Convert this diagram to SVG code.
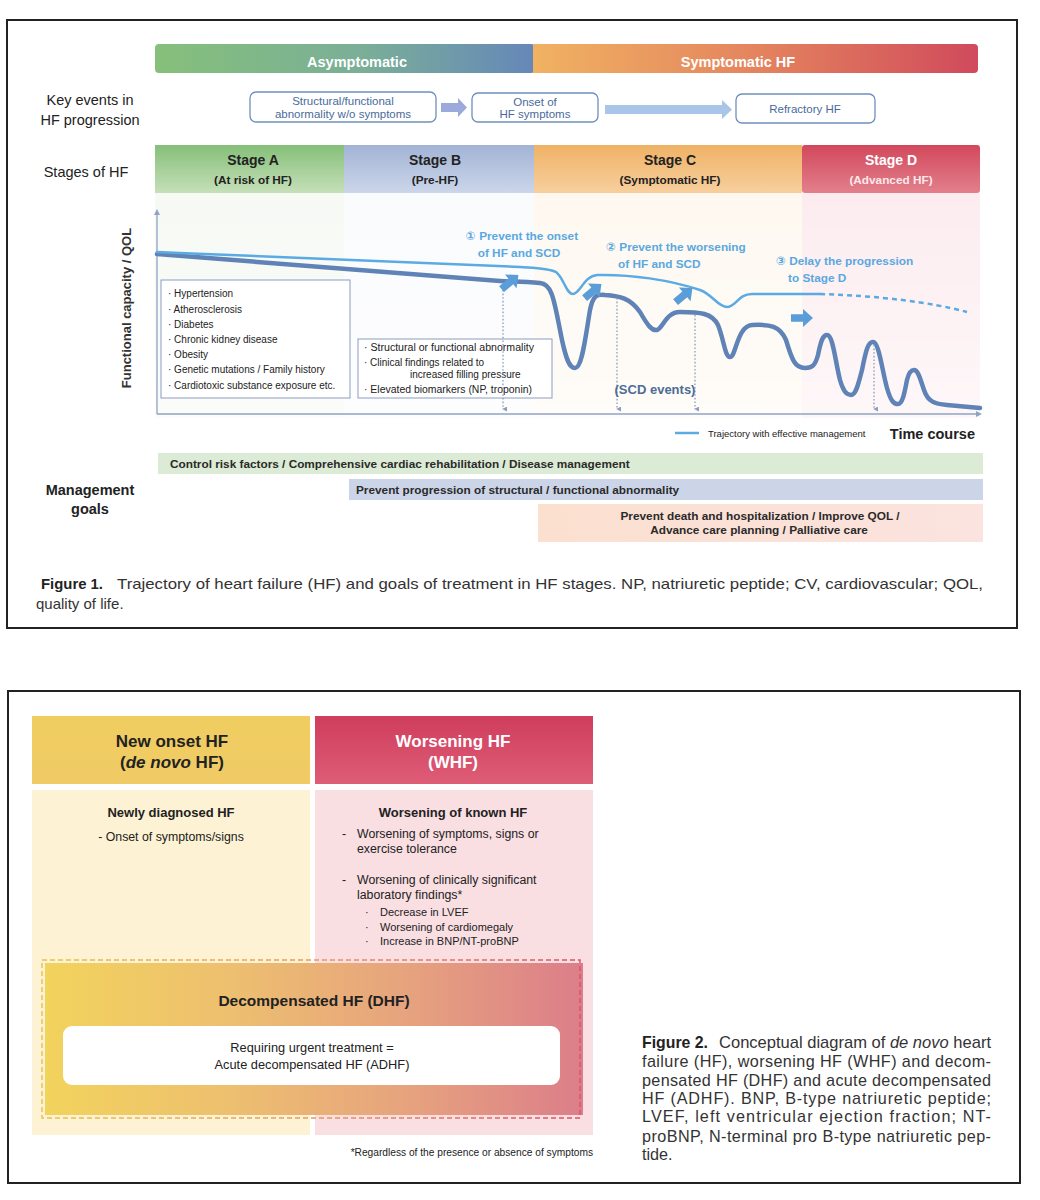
<svg xmlns="http://www.w3.org/2000/svg" xmlns:xlink="http://www.w3.org/1999/xlink" width="1040" height="1200" viewBox="0 0 1040 1200">
<defs>
<style>
text{font-family:"Liberation Sans","DejaVu Sans",Arial,sans-serif;fill:#222}
.b{font-weight:bold}
.lbl{font-size:14.5px}
.ev{font-size:11.5px;fill:#4a6a9c;text-anchor:middle}
.evbox{fill:#fff;stroke:#6f8fbc;stroke-width:1.3}
.st{font-size:14px;font-weight:bold;text-anchor:middle}
.sts{font-size:11.8px;font-weight:bold;text-anchor:middle}
.sm{font-size:10px;fill:#222}
.goal{font-size:11.8px;font-weight:bold;fill:#2a2a2a}
.aim{font-size:11.8px;font-weight:bold;fill:#5aa8e0}
.dot{stroke:#8c9dbf;stroke-width:1.3;stroke-dasharray:1.6 2;fill:none}
.cap{font-size:15px;fill:#333}
.cap2{font-size:16.2px;fill:#333}
.f2{font-size:12.3px}
.f2s{font-size:11px}
</style>
<linearGradient id="gAsym" x1="0" x2="1" y1="0" y2="0"><stop offset="0" stop-color="#86c07a"/><stop offset="0.55" stop-color="#7aae98"/><stop offset="1" stop-color="#6587b9"/></linearGradient>
<linearGradient id="gSym" x1="0" x2="1" y1="0" y2="0"><stop offset="0" stop-color="#f0b262"/><stop offset="0.5" stop-color="#e4845e"/><stop offset="1" stop-color="#d04a5c"/></linearGradient>
<linearGradient id="gA" x1="0" x2="0" y1="0" y2="1"><stop offset="0" stop-color="#85bf78"/><stop offset="1" stop-color="#c6e0b9"/></linearGradient>
<linearGradient id="gB" x1="0" x2="0" y1="0" y2="1"><stop offset="0" stop-color="#a2b3d5"/><stop offset="1" stop-color="#ccd6ea"/></linearGradient>
<linearGradient id="gC" x1="0" x2="0" y1="0" y2="1"><stop offset="0" stop-color="#efb266"/><stop offset="1" stop-color="#f7cf9e"/></linearGradient>
<linearGradient id="gD" x1="0" x2="0" y1="0" y2="1"><stop offset="0" stop-color="#d2485c"/><stop offset="1" stop-color="#e2808c"/></linearGradient>
<linearGradient id="gFade" x1="0" x2="0" y1="0" y2="1"><stop offset="0" stop-color="#fff" stop-opacity="0"/><stop offset="1" stop-color="#fff" stop-opacity="0.6"/></linearGradient>
<linearGradient id="gPeach" x1="0" x2="1" y1="0" y2="0"><stop offset="0" stop-color="#fbe0cf"/><stop offset="1" stop-color="#fbe3df"/></linearGradient>
<linearGradient id="gNewH" x1="0" x2="0" y1="0" y2="1"><stop offset="0" stop-color="#f0cd60"/><stop offset="1" stop-color="#f0cb66"/></linearGradient>
<linearGradient id="gWorH" x1="0" x2="0" y1="0" y2="1"><stop offset="0" stop-color="#cf3d5d"/><stop offset="1" stop-color="#de5d76"/></linearGradient>
<linearGradient id="gDHF" x1="0" x2="1" y1="0" y2="0"><stop offset="0" stop-color="#f2d35c"/><stop offset="0.35" stop-color="#edbf70"/><stop offset="0.68" stop-color="#e6a27e"/><stop offset="1" stop-color="#dc7e8a"/></linearGradient>
<linearGradient id="gDash" x1="0" x2="1" y1="0" y2="0"><stop offset="0" stop-color="#e8c24a"/><stop offset="0.5" stop-color="#e89a60"/><stop offset="1" stop-color="#df4f66"/></linearGradient>
<path id="barr" d="M-11,-3.8 L1,-3.8 L1,-9 L11,0 L1,9 L1,3.8 L-11,3.8 Z" fill="#5b9dd9"/>
<marker id="tip" viewBox="0 0 6 6" refX="3" refY="5" markerWidth="5" markerHeight="5" orient="auto-start-reverse" markerUnits="userSpaceOnUse"><path d="M0,0 L6,0 L3,6 Z" fill="#8c9dbf"/></marker>
<marker id="axtip" viewBox="0 0 6 6" refX="3" refY="3" markerWidth="6" markerHeight="6" orient="auto" markerUnits="userSpaceOnUse"><path d="M0,0 L6,3 L0,6 Z" fill="#8fa3c4"/></marker>
</defs>

<rect width="1040" height="1200" fill="#fff"/>

<!-- ===== Figure 1 ===== -->
<g id="figure1">
<rect x="7" y="20" width="1010" height="608" fill="#fff" stroke="#222" stroke-width="2"/>

<g id="phase-bars">
<rect x="155" y="44" width="380" height="29" rx="4" fill="url(#gAsym)"/>
<rect x="533" y="44" width="445" height="29" rx="4" fill="url(#gSym)"/>
<rect x="533" y="44" width="6" height="29" fill="#f0b262"/>
<text x="357" y="66.5" class="b" font-size="14.5" text-anchor="middle" style="fill:#fff">Asymptomatic</text>
<text x="738" y="66.5" class="b" font-size="14.5" text-anchor="middle" style="fill:#fff">Symptomatic HF</text>
</g>

<g id="row-labels">
<text x="90" y="105" class="lbl" text-anchor="middle">Key events in</text>
<text x="90" y="125" class="lbl" text-anchor="middle">HF progression</text>
<text x="86" y="177" class="lbl" text-anchor="middle">Stages of HF</text>
<text x="90" y="495" class="lbl b" text-anchor="middle">Management</text>
<text x="90" y="514" class="lbl b" text-anchor="middle">goals</text>
</g>

<g id="event-structural">
<rect class="evbox" x="250" y="92" width="186" height="30" rx="6"/>
<text x="343" y="105" class="ev">Structural/functional</text>
<text x="343" y="117.5" class="ev">abnormality w/o symptoms</text>
</g>
<g id="event-onset">
<rect class="evbox" x="472" y="93" width="126" height="29" rx="6"/>
<text x="535" y="105.5" class="ev">Onset of</text>
<text x="535" y="117.5" class="ev">HF symptoms</text>
</g>
<g id="event-refractory">
<rect class="evbox" x="736" y="94" width="139" height="29" rx="6"/>
<text x="805" y="113" class="ev">Refractory HF</text>
</g>

<g id="stages">
<rect x="155" y="145" width="190" height="48" fill="url(#gA)"/>
<rect x="344" y="145" width="190" height="48" fill="url(#gB)"/>
<rect x="534" y="145" width="268" height="48" fill="url(#gC)"/>
<rect x="802" y="145" width="178" height="48" rx="3" fill="url(#gD)"/>
<text x="253" y="165" class="st">Stage A</text>
<text x="253" y="184" class="sts">(At risk of HF)</text>
<text x="435" y="165" class="st">Stage B</text>
<text x="435" y="184" class="sts">(Pre-HF)</text>
<text x="670" y="165" class="st">Stage C</text>
<text x="670" y="184" class="sts">(Symptomatic HF)</text>
<text x="891" y="165" class="st" style="fill:#fff">Stage D</text>
<text x="891" y="184" class="sts" style="fill:#fbe8ea">(Advanced HF)</text>
</g>

<g id="graph-background">
<rect x="155" y="193" width="190" height="225" fill="#f6f9f4"/>
<rect x="344" y="193" width="190" height="225" fill="#fafbfd"/>
<rect x="534" y="193" width="268" height="225" fill="#fef8f0"/>
<rect x="802" y="193" width="178" height="225" fill="#fcecef"/>
<rect x="155" y="193" width="825" height="225" fill="url(#gFade)"/>
</g>

<g id="axes">
<line x1="157" y1="414" x2="157" y2="212" stroke="#8fa3c4" stroke-width="1.3" marker-end="url(#axtip)"/>
<line x1="157" y1="414" x2="979" y2="414" stroke="#8fa3c4" stroke-width="1.3" marker-end="url(#axtip)"/>
<text transform="translate(131,308) rotate(-90)" class="b" font-size="13" text-anchor="middle" style="fill:#333">Functional capacity / QOL</text>
</g>

<g id="risk-factors">
<rect x="161" y="280" width="189" height="118" fill="#fff" stroke="#8c9cc0" stroke-width="1"/>
<text x="168" y="297" class="sm">· Hypertension</text>
<text x="168" y="312.5" class="sm">· Atherosclerosis</text>
<text x="168" y="327.5" class="sm">· Diabetes</text>
<text x="168" y="342.5" class="sm">· Chronic kidney disease</text>
<text x="168" y="357.5" class="sm">· Obesity</text>
<text x="168" y="373" class="sm">· Genetic mutations / Family history</text>
<text x="168" y="389" class="sm">· Cardiotoxic substance exposure etc.</text>
</g>

<g id="stageB-findings">
<rect x="358" y="339" width="194" height="59" fill="#fff" stroke="#8c9cc0" stroke-width="1"/>
<text x="364" y="350.5" class="sm" textLength="170" lengthAdjust="spacingAndGlyphs">· Structural or functional abnormality</text>
<text x="364" y="365.5" class="sm">· Clinical findings related to</text>
<text x="410" y="378" class="sm">increased filling pressure</text>
<text x="364" y="393" class="sm" textLength="168" lengthAdjust="spacingAndGlyphs">· Elevated biomarkers (NP, troponin)</text>
</g>

<g id="trajectories">
<path d="M157,254 L500,281 C510,282 520,281 540,283 C552,284 554,300 560,330 C566,362 570,368 575,368 C582,368 585,340 590,310 C593,296 596,294 605,295 C620,296 630,298 640,312 C648,326 652,331 657,330 C663,328 666,312 680,312 C700,312 712,313 718,325 C724,340 725,357 730,357 C736,357 737,326 752,325 C770,324 780,326 786,340 C792,360 795,368 805,368 C812,368 815,366 818,355 C821,340 823,335 827,335 C833,335 835,360 840,380 C844,394 848,395 851,395 C856,395 858,385 862,370 C866,350 868,342 873,342 C879,342 882,370 887,388 C891,402 894,404 898,404 C903,404 905,390 907,380 C909,372 911,370 914,370 C918,370 920,378 924,390 C928,402 935,404 947,405 L980,408" fill="none" stroke="#5f83b6" stroke-width="4.5" stroke-linecap="round" stroke-linejoin="round"/>
<path d="M157,252 C300,258 450,264 520,267 C535,268 548,268 556,272 C564,278 566,294 573,294 C580,294 584,276 597,275 C630,274 670,280 700,290 C712,294 718,307 727,307 C736,307 738,294 752,294 L820,294" fill="none" stroke="#5aaae3" stroke-width="2.5" stroke-linecap="round"/>
<path d="M820,294 C880,296 930,302 967,312" fill="none" stroke="#5aaae3" stroke-width="2.5" stroke-dasharray="5 4"/>
</g>

<g id="connectors">
<path d="M441,103 L458,103 L458,98 L467,107.5 L458,117 L458,112 L441,112 Z" fill="#9ca9dc"/>
<path d="M605,105 L722,105 L722,100 L732,109.5 L722,119 L722,114 L605,114 Z" fill="#a9c5e7"/>
<line class="dot" x1="503" y1="290" x2="503" y2="409" marker-end="url(#tip)"/>
<line class="dot" x1="617" y1="298" x2="617" y2="409" marker-end="url(#tip)"/>
<line class="dot" x1="695" y1="315" x2="695" y2="409" marker-end="url(#tip)"/>
<line class="dot" x1="874" y1="345" x2="874" y2="409" marker-end="url(#tip)"/>
<use xlink:href="#barr" transform="translate(510,282) rotate(-40)"/>
<use xlink:href="#barr" transform="translate(593,291) rotate(-40)"/>
<use xlink:href="#barr" transform="translate(684,295) rotate(-40)"/>
<use xlink:href="#barr" transform="translate(802,318)"/>
</g>

<g id="aims">
<text x="522" y="239.5" class="aim" text-anchor="middle">① Prevent the onset</text>
<text x="519" y="256.5" class="aim" text-anchor="middle">of HF and SCD</text>
<text x="606" y="251" class="aim">② Prevent the worsening</text>
<text x="618" y="267.5" class="aim">of HF and SCD</text>
<text x="776" y="265" class="aim">③ Delay the progression</text>
<text x="788" y="282" class="aim">to Stage D</text>
<text x="655" y="394" class="b" font-size="13" text-anchor="middle" style="fill:#4d6c96">(SCD events)</text>
</g>

<g id="legend">
<line x1="675" y1="433" x2="699" y2="433" stroke="#5aaae3" stroke-width="2.5"/>
<text x="708" y="436.5" font-size="9.5">Trajectory with effective management</text>
<text x="975" y="439" class="b" font-size="14.5" text-anchor="end">Time course</text>
</g>

<g id="goal-control">
<rect x="158" y="453" width="825" height="21" fill="#dcebd5"/>
<text x="170" y="468" class="goal">Control risk factors / Comprehensive cardiac rehabilitation / Disease management</text>
</g>
<g id="goal-prevent-progression">
<rect x="349" y="479" width="634" height="21" fill="#ccd5e8"/>
<text x="356" y="494" class="goal">Prevent progression of structural / functional abnormality</text>
</g>
<g id="goal-prevent-death">
<rect x="538" y="504" width="445" height="38" fill="url(#gPeach)"/>
<text x="760" y="520" class="goal" text-anchor="middle">Prevent death and hospitalization / Improve QOL /</text>
<text x="759" y="534" class="goal" text-anchor="middle">Advance care planning / Palliative care</text>
</g>

<g id="caption1">
<text x="41" y="589" class="cap b" textLength="62" lengthAdjust="spacingAndGlyphs" style="fill:#222">Figure 1.</text>
<text x="117" y="589" class="cap" textLength="866" lengthAdjust="spacingAndGlyphs">Trajectory of heart failure (HF) and goals of treatment in HF stages. NP, natriuretic peptide; CV, cardiovascular; QOL,</text>
<text x="36" y="609" class="cap">quality of life.</text>
</g>
</g>

<!-- ===== Figure 2 ===== -->
<g id="figure2">
<rect x="8" y="691" width="1012" height="492" fill="#fff" stroke="#222" stroke-width="2"/>

<g id="new-onset">
<rect x="32" y="716" width="278" height="68" fill="url(#gNewH)"/>
<rect x="32" y="790" width="278" height="345" fill="#fdf2d3"/>
<text x="172" y="747" class="b" font-size="17" text-anchor="middle">New onset HF</text>
<text x="172" y="768" class="b" font-size="17" text-anchor="middle">(<tspan font-style="italic">de novo</tspan> HF)</text>
<text x="171" y="817" class="b" font-size="13" text-anchor="middle">Newly diagnosed HF</text>
<text x="171" y="841" class="f2" text-anchor="middle">- Onset of symptoms/signs</text>
</g>

<g id="worsening">
<rect x="315" y="716" width="278" height="68" fill="url(#gWorH)"/>
<rect x="315" y="790" width="278" height="345" fill="#f9dee2"/>
<text x="453" y="747" class="b" font-size="17" text-anchor="middle" style="fill:#fff">Worsening HF</text>
<text x="453" y="768" class="b" font-size="17" text-anchor="middle" style="fill:#fff">(WHF)</text>
<text x="453" y="817" class="b" font-size="13" text-anchor="middle">Worsening of known HF</text>
<text x="342" y="838" class="f2">-</text>
<text x="357" y="838" class="f2">Worsening of symptoms, signs or</text>
<text x="357" y="853" class="f2">exercise tolerance</text>
<text x="342" y="884" class="f2">-</text>
<text x="357" y="884" class="f2">Worsening of clinically significant</text>
<text x="357" y="899" class="f2">laboratory findings*</text>
<text x="365" y="916" class="f2s">·</text>
<text x="380" y="916" class="f2s">Decrease in LVEF</text>
<text x="365" y="930.5" class="f2s">·</text>
<text x="380" y="930.5" class="f2s">Worsening of cardiomegaly</text>
<text x="365" y="945" class="f2s">·</text>
<text x="380" y="945" class="f2s">Increase in BNP/NT-proBNP</text>
</g>

<g id="dhf">
<rect x="45" y="963" width="538" height="152" fill="url(#gDHF)"/>
<rect x="42" y="960" width="538" height="158" fill="none" stroke="url(#gDash)" stroke-width="1.4" stroke-dasharray="5 3"/>
<text x="314" y="1006" class="b" font-size="15.5" text-anchor="middle">Decompensated HF (DHF)</text>
<g id="adhf">
<rect x="63" y="1026" width="497" height="59" rx="9" fill="#fff"/>
<text x="312" y="1052" font-size="12.8" text-anchor="middle">Requiring urgent treatment =</text>
<text x="312" y="1069" font-size="12.8" text-anchor="middle">Acute decompensated HF (ADHF)</text>
</g>
</g>

<text x="593" y="1156" font-size="10.2" text-anchor="end">*Regardless of the presence or absence of symptoms</text>

<g id="caption2">
<text x="642" y="1048" class="cap2 b" textLength="66" lengthAdjust="spacingAndGlyphs" style="fill:#222">Figure 2.</text>
<text x="719" y="1048" class="cap2" textLength="272" lengthAdjust="spacingAndGlyphs">Conceptual diagram of <tspan font-style="italic">de novo</tspan> heart</text>
<text x="642" y="1067" class="cap2" textLength="349" lengthAdjust="spacing">failure (HF), worsening HF (WHF) and decom-</text>
<text x="642" y="1086" class="cap2" textLength="349" lengthAdjust="spacing">pensated HF (DHF) and acute decompensated</text>
<text x="642" y="1104" class="cap2" textLength="349" lengthAdjust="spacing">HF (ADHF). BNP, B-type natriuretic peptide;</text>
<text x="642" y="1122" class="cap2" textLength="349" lengthAdjust="spacing">LVEF, left ventricular ejection fraction; NT-</text>
<text x="642" y="1142" class="cap2" textLength="349" lengthAdjust="spacing">proBNP, N-terminal pro B-type natriuretic pep-</text>
<text x="642" y="1160" class="cap2">tide.</text>
</g>
</g>
</svg>
